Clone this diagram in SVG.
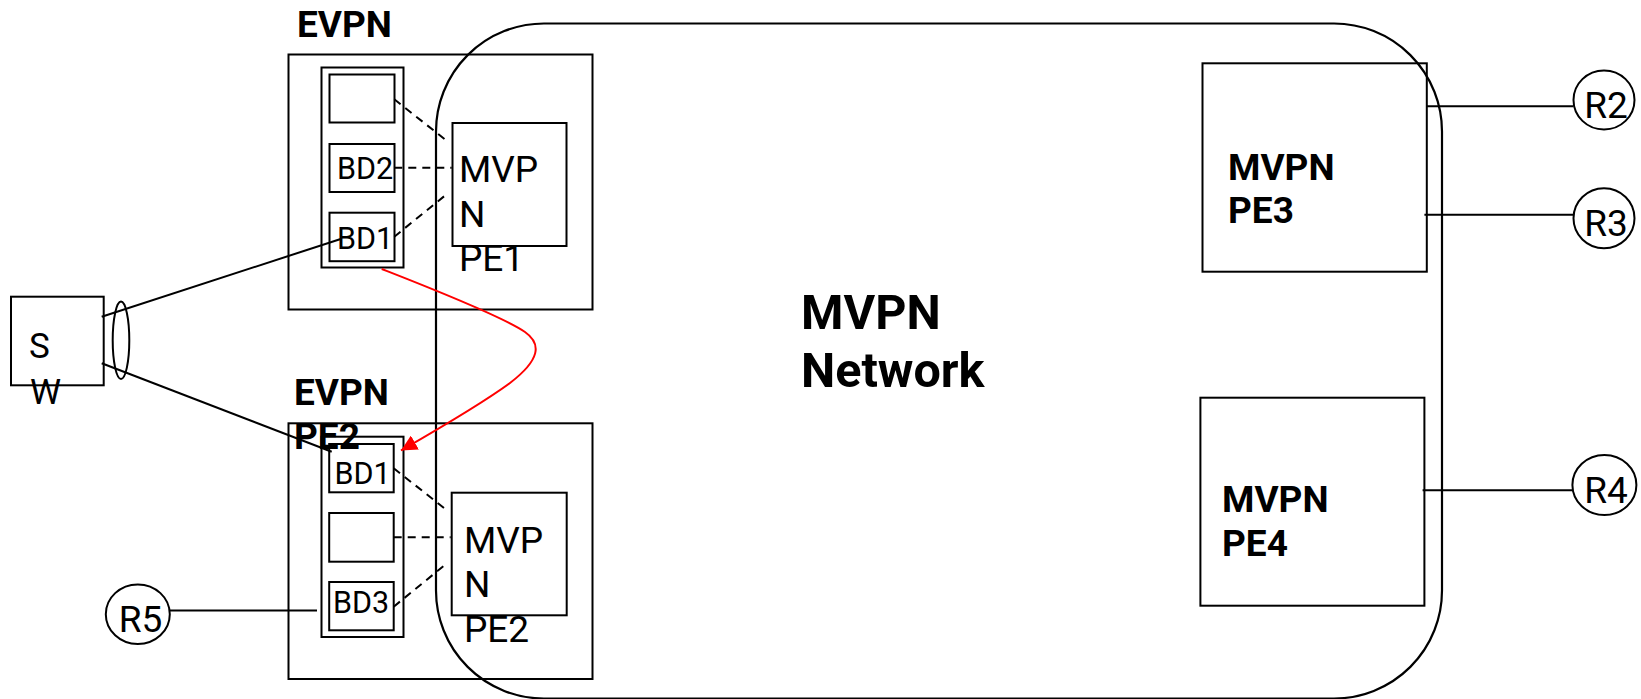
<svg xmlns="http://www.w3.org/2000/svg" width="1641" height="699" viewBox="0 0 1641 699">
<style>
.box{fill:none;stroke:#000;stroke-width:2}
.ln{fill:none;stroke:#000;stroke-width:2}
.dash{fill:none;stroke:#000;stroke-width:2;stroke-dasharray:8,6}
.red{fill:none;stroke:#ff0000;stroke-width:2}
.t{font-family:Roboto,"Liberation Sans",sans-serif;fill:#000}
.reg{font-size:37px}
.bd{font-size:30.5px}
.b{font-weight:bold;font-size:37px}
.big{font-weight:bold;font-size:48.5px}
.r{font-size:37px;text-anchor:middle}
</style>
<defs>
<marker id="arr" markerUnits="userSpaceOnUse" markerWidth="16" markerHeight="16" refX="14" refY="7" orient="auto" viewBox="0 0 14 14">
<path d="M0,0 L14,7 L0,14 z" fill="#ff0000"/>
</marker>
</defs>
<rect width="1641" height="699" fill="#fff"/>

<g id="mvpn-network">
<rect class="box" x="436" y="23.5" width="1006" height="675" rx="108" ry="108" style="stroke-width:2.2"/>
<text class="t big" x="801" y="328.5">MVPN</text>
<text class="t big" x="801" y="387">Network</text>
</g>

<g id="evpn-pe1">
<rect class="box" x="288.5" y="54.5" width="304" height="255"/>
<text class="t b" x="297" y="37">EVPN</text>
<rect class="box" x="321.5" y="67.5" width="82" height="200"/>
<rect class="box" x="329.5" y="74.5" width="65" height="48"/>
<rect class="box" x="329.5" y="144" width="65" height="48"/>
<text class="t bd" x="337" y="178.5">BD2</text>
<rect class="box" x="329.5" y="212.7" width="65" height="48.5"/>
<text class="t bd" x="337" y="249">BD1</text>
</g>

<g id="mvpn-pe1">
<rect class="box" x="452.5" y="123" width="114" height="123"/>
<text class="t reg" x="459" y="181.7">MVP</text>
<text class="t reg" x="459" y="226.7">N</text>
<text class="t reg" x="459" y="270.7">PE1</text>
</g>

<g id="evpn-pe2">
<rect class="box" x="288.5" y="423.3" width="304" height="255.7"/>
<text class="t b" x="294" y="405">EVPN</text>
<text class="t b" x="294" y="449.3">PE2</text>
<rect class="box" x="321.5" y="436.7" width="82" height="200.3"/>
<rect class="box" x="329.2" y="444" width="64.5" height="48.3"/>
<text class="t bd" x="334.5" y="484">BD1</text>
<rect class="box" x="329.2" y="513" width="64.5" height="48.7"/>
<rect class="box" x="329.2" y="582" width="64.5" height="48.3"/>
<text class="t bd" x="333" y="613.3">BD3</text>
</g>

<g id="mvpn-pe2">
<rect class="box" x="451.7" y="492.7" width="115" height="122.6"/>
<text class="t reg" x="464" y="553.3">MVP</text>
<text class="t reg" x="464" y="597.3">N</text>
<text class="t reg" x="464" y="641.7">PE2</text>
</g>

<g id="sw">
<rect class="box" x="11" y="296.7" width="92.7" height="88.6"/>
<text class="t" style="font-size:35px" x="29" y="358.3">S</text>
<text class="t" style="font-size:35px" x="30" y="404">W</text>
<ellipse class="ln" cx="121" cy="340.3" rx="8.3" ry="38.7"/>
</g>

<g id="mvpn-pe3">
<rect class="box" x="1202.5" y="63.3" width="224.3" height="208.4"/>
<text class="t b" x="1228" y="180">MVPN</text>
<text class="t b" x="1228" y="223.3">PE3</text>
</g>

<g id="mvpn-pe4">
<rect class="box" x="1200.4" y="397.7" width="224" height="208"/>
<text class="t b" x="1222" y="512.3">MVPN</text>
<text class="t b" x="1222" y="555.7">PE4</text>
</g>

<g id="r2">
<ellipse class="ln" cx="1604" cy="100" rx="30.5" ry="29.5"/>
<text class="t r" x="1606" y="117.5">R2</text>
</g>
<g id="r3">
<ellipse class="ln" cx="1604" cy="218.3" rx="30.5" ry="30"/>
<text class="t r" x="1606" y="236">R3</text>
</g>
<g id="r4">
<ellipse class="ln" cx="1604.4" cy="485" rx="32" ry="30"/>
<text class="t r" x="1606" y="502.5">R4</text>
</g>
<g id="r5">
<ellipse class="ln" cx="137.8" cy="614.2" rx="32" ry="29.8"/>
<text class="t r" x="140.5" y="632">R5</text>
</g>

<g id="connectors">
<line class="dash" x1="394.3" y1="99.3" x2="445.7" y2="140"/>
<line class="dash" x1="394.3" y1="167.7" x2="451.7" y2="167.7"/>
<line class="dash" x1="394.3" y1="236.7" x2="445.7" y2="195"/>
<line class="dash" x1="393.7" y1="468.3" x2="445.7" y2="509.3"/>
<line class="dash" x1="393.7" y1="537.3" x2="450.7" y2="537.3"/>
<line class="dash" x1="393.7" y1="606.7" x2="445.7" y2="564.3"/>
<line class="ln" x1="101.7" y1="316.7" x2="340.7" y2="239"/>
<line class="ln" x1="101.7" y1="363.3" x2="331.7" y2="451.7"/>
<line class="ln" x1="170" y1="610.5" x2="317" y2="610.5"/>
<line class="ln" x1="1426.8" y1="106.3" x2="1573.5" y2="106.3"/>
<line class="ln" x1="1424.4" y1="214.7" x2="1573.5" y2="214.7"/>
<line class="ln" x1="1422.6" y1="490.3" x2="1572.4" y2="490.3"/>
<path class="red" d="M381.7,269 C420,284 500,315 525,332 C542,344 540,360 510,383 C480,405 440,428 401,450.5" marker-end="url(#arr)"/>
</g>
</svg>
